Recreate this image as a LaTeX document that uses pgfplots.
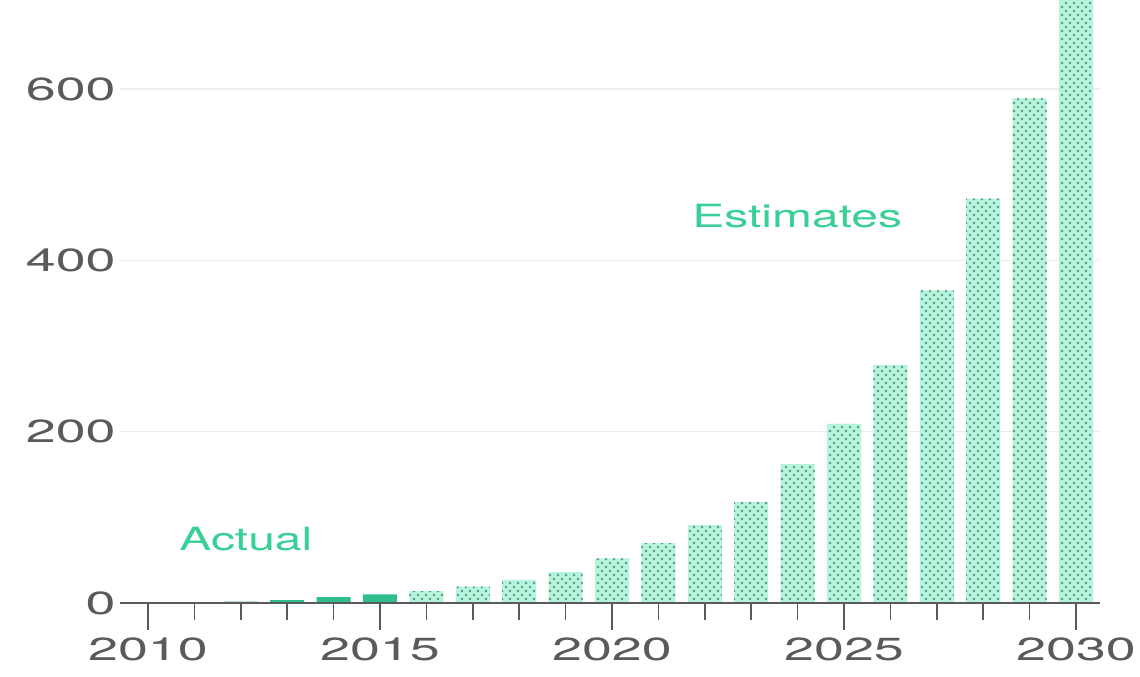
\documentclass[border=0pt]{standalone}
\usepackage{fontspec}
\setmainfont[FakeStretch=1.5]{TeX Gyre Heros}
\newfontfamily\tickfam[FakeStretch=1.68]{TeX Gyre Heros}
\usepackage{pgfplots}
\pgfplotsset{compat=1.18}
\usetikzlibrary{patterns}
\definecolor{mint}{HTML}{B5F5DC}
\definecolor{dotc}{HTML}{5C927E}
\definecolor{actual}{HTML}{2DBE8C}
\definecolor{labgreen}{HTML}{3ACF97}
\definecolor{tickgray}{HTML}{5A5A5A}
\definecolor{gridgray}{HTML}{EDEDED}
\pgfdeclarepatternformonly{mydots}{\pgfpoint{-1bp}{-1bp}}{\pgfpoint{9bp}{9bp}}{\pgfpoint{8bp}{8bp}}{%
 \pgfpathcircle{\pgfpoint{2bp}{2bp}}{1.35bp}%
 \pgfpathcircle{\pgfpoint{6bp}{6bp}}{1.35bp}%
 \pgfusepath{fill}}
\newcommand{\bigf}{\fontsize{32bp}{38bp}\selectfont}
\newcommand{\tickf}{\tickfam\fontsize{32bp}{38bp}\selectfont}
\begin{document}
\begin{tikzpicture}
\begin{axis}[
  scale only axis, width=980bp, height=603bp,
  xmin=2009.397, xmax=2030.517, ymin=0, ymax=703.9,
  axis lines*=left,
  y axis line style={draw=none},
  x axis line style={tickgray, line width=1.5bp},
  tick align=outside,
  xtick={2010,2015,2020,2025,2030},
  xticklabels={2010,2015,2020,2025,2030},
  minor xtick={2011,2012,2013,2014,2016,2017,2018,2019,2021,2022,2023,2024,2026,2027,2028,2029},
  major tick length=27bp, minor tick length=17bp,
  xtick style={tickgray, line width=1.5bp},
  minor tick style={tickgray, line width=1.5bp},
  ytick={0,200,400,600},
  yticklabels={0,200,400,600},
  ytick style={draw=none},
  ymajorgrids, grid style={gridgray, line width=1.2bp},
  ticklabel style={font=\tickf, text=tickgray},
  /pgf/number format/assume math mode=true,
  xticklabel style={yshift=-4bp},
  yticklabel style={xshift=26bp},
  clip=true,
]
\addplot[ybar, bar width=34bp, bar shift=0pt, fill=actual, draw=none]
  coordinates {(2010,0.2)(2011,0.5)(2012,1.5)(2013,3.5)(2014,7)(2015,10)};
\addplot[ybar, bar width=34bp, bar shift=0pt, fill=mint, draw=none,
  postaction={pattern=mydots, pattern color=dotc}]
  coordinates {(2016,14)(2017,19)(2018,27)(2019,36)(2020,52)(2021,70)(2022,91)(2023,118)(2024,162)(2025,209)(2026,278)(2027,365)(2028,472)(2029,589)(2030,720)};
\draw[tickgray, line width=1.5bp] (rel axis cs:0,0) -- (rel axis cs:1,0);
\node[font=\bigf, text=labgreen] at (axis cs:2012.11,74.7) {Actual};
\node[font=\bigf, text=labgreen] at (axis cs:2023.99,451.7) {Estimates};
\coordinate (O) at (rel axis cs:0,0);
\coordinate (T) at (rel axis cs:1,1);
\end{axis}
\pgfresetboundingbox
\useasboundingbox ([shift={(-120bp,-74bp)}]O) rectangle ([shift={(40bp,0bp)}]T);
\end{tikzpicture}
\end{document}
